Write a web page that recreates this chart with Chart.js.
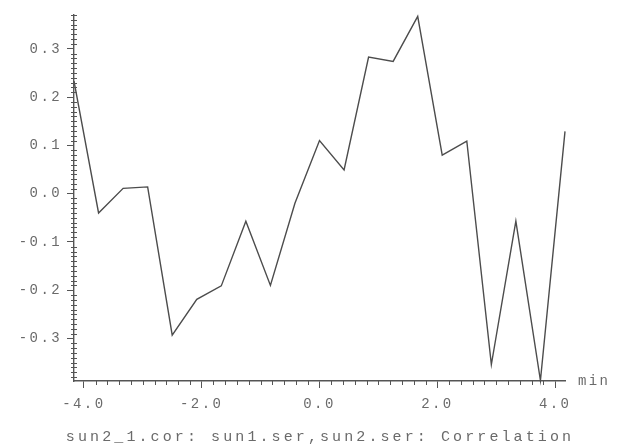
<!DOCTYPE html>
<html>
<head>
<meta charset="utf-8">
<script src="https://cdn.jsdelivr.net/npm/chart.js@4/dist/chart.umd.min.js"></script>
<style>
  html, body { margin: 0; padding: 0; background: #fff; }
  #wrap { width: 623px; height: 446px; }
</style>
</head>
<body>
<div id="wrap"><canvas id="c" width="623" height="446"></canvas></div>
<script>
// Cross-correlation of sun1.ser and sun2.ser, lag in minutes (25 s steps)
const lags = [-4.167, -3.75, -3.333, -2.917, -2.5, -2.083, -1.667, -1.25, -0.833, -0.417,
              0, 0.417, 0.833, 1.25, 1.667, 2.083, 2.5, 2.917, 3.333, 3.75, 4.167];
const corr = [0.233, -0.040, 0.011, 0.014, -0.293, -0.219, -0.191, -0.057, -0.190, -0.020,
              0.110, 0.049, 0.283, 0.274, 0.367, 0.080, 0.109, -0.354, -0.057, -0.387, 0.129];
const xTicks = [-4, -2, 0, 2, 4];
const yTicks = [-0.3, -0.2, -0.1, 0.0, 0.1, 0.2, 0.3];
const xUnit = 'min';
const caption = 'sun2_1.cor: sun1.ser,sun2.ser: Correlation';

const FONT = 'Liberation Mono, Courier New, monospace';
const TEXT = '#6a6a6a';
const AXIS = '#555';
const LABEL_SPACING = '2.4px';

// monospaced labels are drawn with wide letter spacing
const spacing = {
  id: 'spacing',
  beforeInit(chart) { chart.ctx.letterSpacing = LABEL_SPACING; },
  beforeUpdate(chart) { chart.ctx.letterSpacing = LABEL_SPACING; },
  beforeDraw(chart) { chart.ctx.letterSpacing = LABEL_SPACING; }
};

// minor ticks, axis unit and caption
const extras = {
  id: 'extras',
  afterDraw(chart) {
    const ctx = chart.ctx;
    const xs = chart.scales.x, ys = chart.scales.y;
    const a = chart.chartArea;
    ctx.save();
    ctx.strokeStyle = AXIS;
    ctx.lineWidth = 1;
    ctx.beginPath();
    for (let k = -20; k <= 20; k++) {
      if (k % 10 === 0) continue;
      const px = Math.round(xs.getPixelForValue(k * 0.2)) + 0.5;
      ctx.moveTo(px, a.bottom);
      ctx.lineTo(px, a.bottom + 4);
    }
    for (let k = -38; k <= 37; k++) {
      if (k % 10 === 0) continue;
      const py = Math.round(ys.getPixelForValue(k * 0.01)) + 0.5;
      ctx.moveTo(a.left - 3, py);
      ctx.lineTo(a.left + 3, py);
    }
    ctx.stroke();

    ctx.fillStyle = TEXT;
    ctx.letterSpacing = LABEL_SPACING;
    ctx.font = '14px ' + FONT;
    ctx.textAlign = 'left';
    ctx.textBaseline = 'middle';
    ctx.fillText(xUnit, a.right + 13, a.bottom);

    ctx.letterSpacing = '3.1px';
    ctx.font = '15px ' + FONT;
    ctx.textAlign = 'center';
    ctx.fillText(caption, 320, 437);
    ctx.restore();
  }
};

new Chart(document.getElementById('c'), {
  type: 'line',
  data: {
    datasets: [{
      data: lags.map((x, i) => ({ x: x, y: corr[i] })),
      borderColor: '#4c4c4c',
      borderWidth: 1.4,
      pointRadius: 0,
      tension: 0,
      fill: false,
      clip: false
    }]
  },
  options: {
    responsive: false,
    devicePixelRatio: 1,
    animation: false,
    layout: { padding: { left: 0, right: 58, top: 15, bottom: 0 } },
    plugins: { legend: { display: false }, tooltip: { enabled: false }, title: { display: false } },
    scales: {
      x: {
        type: 'linear',
        min: -4.167,
        max: 4.167,
        afterBuildTicks(s) { s.ticks = xTicks.map(v => ({ value: v })); },
        afterFit(s) { s.height = 65; },
        ticks: {
          callback: v => v.toFixed(1),
          color: TEXT,
          font: { family: FONT, size: 14 },
          padding: 8,
          maxRotation: 0,
          autoSkip: false
        },
        grid: { drawOnChartArea: false, drawTicks: true, tickLength: 7, tickColor: AXIS, tickWidth: 1 },
        border: { color: AXIS, width: 1.4 }
      },
      y: {
        type: 'linear',
        min: -0.388,
        max: 0.37,
        afterBuildTicks(s) { s.ticks = yTicks.map(v => ({ value: v })); },
        afterFit(s) { s.width = 74; },
        ticks: {
          callback: v => v.toFixed(1),
          color: TEXT,
          font: { family: FONT, size: 14 },
          padding: 5,
          autoSkip: false
        },
        grid: { drawOnChartArea: false, drawTicks: true, tickLength: 7, tickColor: AXIS, tickWidth: 1 },
        border: { color: AXIS, width: 1.4 }
      }
    }
  },
  plugins: [spacing, extras]
});
</script>
</body>
</html>
